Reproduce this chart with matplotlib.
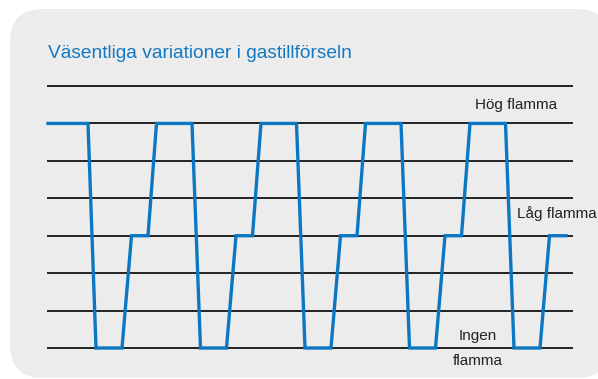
import matplotlib.pyplot as plt
from matplotlib.patches import FancyBboxPatch

plt.rcParams['font.family'] = ['Liberation Sans', 'DejaVu Sans']

# gas supply level over time (0 = no flame, 3 = low flame, 6 = high flame)
time = [0, 40, 48, 74, 83.5, 100, 108.5, 144,
        152.5, 178.5, 188, 204.5, 213, 248.5,
        257, 283, 292.5, 309, 317.5, 353,
        361.5, 387.5, 397, 413.5, 422, 457.5,
        466, 492, 501.5, 518]
level = [6, 6, 0, 0, 3, 3, 6, 6,
         0, 0, 3, 3, 6, 6,
         0, 0, 3, 3, 6, 6,
         0, 0, 3, 3, 6, 6,
         0, 0, 3, 3]
grid_levels = [0, 1, 2, 3, 4, 5, 6, 7]

title = 'Väsentliga variationer i gastillförseln'

W, H = 598, 379
fig = plt.figure(figsize=(W / 100, H / 100), dpi=100)
fig.patch.set_facecolor('white')

# rounded grey panel behind the chart
panel = FancyBboxPatch((10 / W, 1 / H), 600 / W, 369 / H,
                       boxstyle='round,pad=0,rounding_size=0.055',
                       transform=fig.transFigure, facecolor='#ececec',
                       edgecolor='none', mutation_aspect=W / H, zorder=-5)
fig.patches.append(panel)

fig.text(48 / W, 1 - 53 / H, title, color='#1479c2', fontsize=13.8,
         va='center', ha='left')

ax = fig.add_axes([48 / W, 1 - 348 / H, 524 / W, 262 / H])
ax.set_zorder(2)
ax.set_xlim(0, 524)
ax.set_ylim(0, 7)
ax.axis('off')

for g in grid_levels:
    ax.axhline(g, color='#222222', lw=1.4, clip_on=False, zorder=1)

ax.plot(time, level, color='#0b76c2', lw=2.4, clip_on=False, zorder=2,
        solid_joinstyle='miter')

ax.text(468, 6.5, 'Hög flamma', fontsize=11, ha='center', va='center',
        color='#222222')
ax.text(509, 3.6, 'Låg flamma', fontsize=11, ha='center', va='center',
        color='#222222', clip_on=False)
ax.text(430, 0.32, 'Ingen', fontsize=11, ha='center', va='center',
        color='#222222')
ax.text(430, -0.34, 'flamma', fontsize=11, ha='center', va='center',
        color='#222222', clip_on=False)

fig.savefig('out.png', dpi=100)
